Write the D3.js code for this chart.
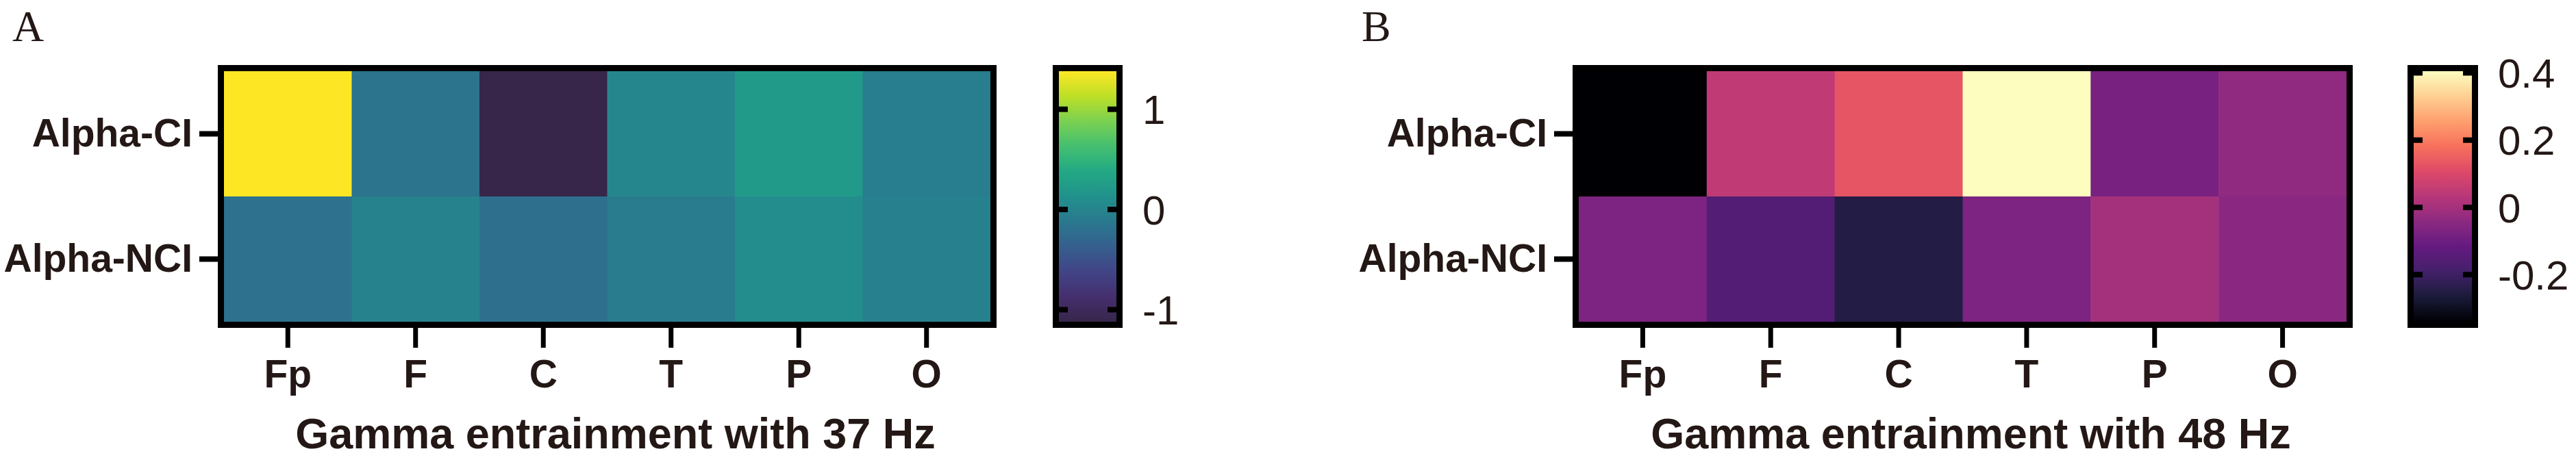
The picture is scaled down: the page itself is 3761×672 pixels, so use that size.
<!DOCTYPE html>
<html>
<head>
  <meta charset="utf-8">
  <title>Gamma entrainment heatmaps</title>
  <script type="text/javascript" src="https://cdn.jsdelivr.net/npm/d3@7"></script>
</head>
<style>
  body {
    margin: 0;
    background: #fff;
  }

  .tickText {
    font-family: "Liberation Sans", Arial, sans-serif;
    font-weight: bold;
    font-size: 57px;
    fill: #231815;
  }

  .title {
    font-family: "Liberation Sans", Arial, sans-serif;
    font-weight: bold;
    font-size: 63px;
    fill: #231815;
  }

  .cbText {
    font-family: "Liberation Sans", Arial, sans-serif;
    font-size: 60px;
    fill: #231815;
  }

  .panel {
    font-family: "Liberation Serif", "Times New Roman", serif;
    font-size: 64px;
    fill: #231815;
  }
</style>

<body>
  <script type="text/javascript">
    var width = 3761;
    var height = 672;

    // data
    var rows = ["Alpha-CI", "Alpha-NCI"];
    var cols = ["Fp", "F", "C", "T", "P", "O"];

    var ci37 = [1.38, -0.17, -1.12, 0.03, 0.23, -0.07];
    var nci37 = [-0.19, -0.02, -0.21, -0.09, 0.08, -0.04];
    var range37 = [-1.12, 1.38];
    var ticks37 = [-1, 0, 1];

    var ci48 = [-0.34, 0.05, 0.13, 0.405, -0.08, -0.035];
    var nci48 = [-0.07, -0.155, -0.25, -0.07, 0.0, -0.045];
    var range48 = [-0.34, 0.405];
    var ticks48 = [-0.2, 0, 0.2, 0.4];

    // viridis / magma as the source software draws them (duller dark end)
    var viridisStops = d3.range(0, 1.0001, 0.1).map(function(t) { return d3.interpolateViridis(t); });
    viridisStops[0] = "#37264a";
    viridisStops[1] = "#452f6e";
    var viridisLike = d3.piecewise(d3.interpolateRgb, viridisStops);

    var magmaStops = d3.range(0, 1.0001, 0.1).map(function(t) { return d3.interpolateMagma(t); });
    magmaStops[1] = "#1a1b3a";
    magmaStops[2] = "#43206a";
    var magmaLike = d3.piecewise(d3.interpolateRgb, magmaStops);

    var svg = d3.select("body")
      .append("svg")
      .attr("width", width)
      .attr("height", height);

    function drawPanel(opt) {
      var data = [];
      opt.series.forEach(function(vals, i) {
        vals.forEach(function(v, j) {
          data.push({row: rows[i], col: cols[j], value: v});
        });
      });

      var xScale = d3.scaleBand().domain(cols).range([opt.x0, opt.x1]);
      var yScale = d3.scaleBand().domain(rows).range([opt.y0, opt.y1]);
      var color = d3.scaleSequential(opt.interp).domain(opt.range);

      var g = svg.append("g");

      // cells
      g.selectAll("rect.cell")
        .data(data)
        .enter()
        .append("rect")
        .attr("class", "cell")
        .attr("x", function(d) { return xScale(d.col); })
        .attr("y", function(d) { return yScale(d.row); })
        .attr("width", xScale.bandwidth() + 0.5)
        .attr("height", yScale.bandwidth() + 0.5)
        .attr("fill", function(d) { return color(d.value); });

      // frame
      g.append("rect")
        .attr("x", opt.x0 - 4.5)
        .attr("y", opt.y0 - 4.5)
        .attr("width", opt.x1 - opt.x0 + 9)
        .attr("height", opt.y1 - opt.y0 + 9)
        .attr("fill", "none")
        .attr("stroke", "#000")
        .attr("stroke-width", 9);

      // axes
      var xAxis = d3.axisBottom(xScale).tickSize(29).tickPadding(18);
      var xg = g.append("g")
        .attr("transform", "translate(0," + (opt.y1 + 9) + ")")
        .call(xAxis);
      xg.select(".domain").remove();
      xg.selectAll("line").attr("stroke", "#000").attr("stroke-width", 7);
      xg.selectAll("text").attr("class", "tickText").attr("font-size", null).attr("font-family", null);

      var yAxis = d3.axisLeft(yScale).tickSize(29).tickPadding(10);
      var yg = g.append("g")
        .attr("transform", "translate(" + (opt.x0 - 7) + ",0)")
        .call(yAxis);
      yg.select(".domain").remove();
      yg.selectAll("line").attr("stroke", "#000").attr("stroke-width", 8);
      yg.selectAll("text").attr("class", "tickText").attr("font-size", null).attr("font-family", null);

      // title
      g.append("text")
        .attr("class", "title")
        .attr("x", (opt.x0 + opt.x1) / 2 + 12)
        .attr("y", 655)
        .attr("text-anchor", "middle")
        .text(opt.title);

      // panel letter
      g.append("text")
        .attr("class", "panel")
        .attr("x", opt.letterX)
        .attr("y", 60)
        .text(opt.letter);

      // colour bar
      var gradId = "grad" + opt.letter;
      var grad = svg.append("defs").append("linearGradient")
        .attr("id", gradId)
        .attr("x1", "0%").attr("y1", "100%")
        .attr("x2", "0%").attr("y2", "0%");
      d3.range(0, 1.0001, 0.05).forEach(function(t) {
        grad.append("stop")
          .attr("offset", (t * 100) + "%")
          .attr("stop-color", opt.interp(t));
      });

      var cbScale = d3.scaleLinear().domain(opt.range).range([opt.y1, opt.y0]);

      g.append("rect")
        .attr("x", opt.cb0)
        .attr("y", opt.y0)
        .attr("width", opt.cb1 - opt.cb0)
        .attr("height", opt.y1 - opt.y0)
        .attr("fill", "url(#" + gradId + ")");

      g.append("rect")
        .attr("x", opt.cb0 - 4.5)
        .attr("y", opt.y0 - 4.5)
        .attr("width", opt.cb1 - opt.cb0 + 9)
        .attr("height", opt.y1 - opt.y0 + 9)
        .attr("fill", "none")
        .attr("stroke", "#000")
        .attr("stroke-width", 9);

      // inner tick marks on both sides
      g.selectAll("line.cbl")
        .data(opt.ticks)
        .enter()
        .append("line")
        .attr("x1", opt.cb0)
        .attr("x2", opt.cb0 + 13)
        .attr("y1", function(d) { return cbScale(d); })
        .attr("y2", function(d) { return cbScale(d); })
        .attr("stroke", "#000")
        .attr("stroke-width", 8);

      g.selectAll("line.cbr")
        .data(opt.ticks)
        .enter()
        .append("line")
        .attr("x1", opt.cb1 - 13)
        .attr("x2", opt.cb1)
        .attr("y1", function(d) { return cbScale(d); })
        .attr("y2", function(d) { return cbScale(d); })
        .attr("stroke", "#000")
        .attr("stroke-width", 8);

      // plain hyphen for negatives, as in the figure
      g.selectAll("text.cbText")
        .data(opt.ticks)
        .enter()
        .append("text")
        .attr("class", "cbText")
        .attr("x", opt.cb1 + 38)
        .attr("y", function(d) { return cbScale(d); })
        .attr("dy", "0.36em")
        .text(function(d) { return String(d); });
    }

    drawPanel({
      series: [ci37, nci37],
      range: range37,
      ticks: ticks37,
      interp: viridisLike,
      x0: 327, x1: 1446, y0: 104, y1: 470,
      cb0: 1546, cb1: 1630,
      title: "Gamma entrainment with 37 Hz",
      letter: "A", letterX: 18
    });

    drawPanel({
      series: [ci48, nci48],
      range: range48,
      ticks: ticks48,
      interp: magmaLike,
      x0: 2305, x1: 3426, y0: 104, y1: 470,
      cb0: 3524, cb1: 3609,
      title: "Gamma entrainment with 48 Hz",
      letter: "B", letterX: 1988
    });
  </script>
</body>
</html>
